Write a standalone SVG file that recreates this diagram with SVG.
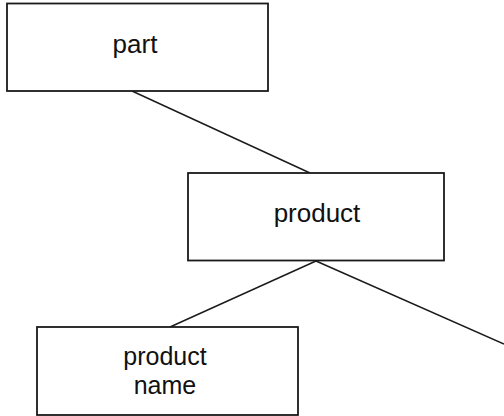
<svg xmlns="http://www.w3.org/2000/svg" width="504" height="416" viewBox="0 0 504 416">
  <style>
    .box { fill: #fff; stroke: #1a1a1a; stroke-width: 1.8; }
    .edge { fill: none; stroke: #1a1a1a; stroke-width: 1.4; }
    .label { font-family: "Liberation Sans", Arial, sans-serif; font-size: 26px; fill: #111; text-anchor: middle; }
    .label-sm { font-family: "Liberation Sans", Arial, sans-serif; font-size: 25px; fill: #111; text-anchor: middle; }
  </style>
  <rect width="504" height="416" fill="#fff"/>
  <g id="connectors">
    <line class="edge" x1="132" y1="91" x2="310" y2="173"/>
    <line class="edge" x1="316" y1="261" x2="170" y2="327"/>
    <line class="edge" x1="316" y1="261" x2="504" y2="344"/>
  </g>
  <g id="part">
    <rect class="box" x="7" y="3.5" width="261" height="87.5"/>
    <text class="label" x="135" y="53">part</text>
  </g>
  <g id="product">
    <rect class="box" x="188" y="173" width="256" height="87.5"/>
    <text class="label" x="317" y="222">product</text>
  </g>
  <g id="product-name">
    <rect class="box" x="37" y="327" width="261" height="88"/>
    <text class="label-sm" x="165" y="365">product</text>
    <text class="label-sm" x="165" y="394">name</text>
  </g>
</svg>
